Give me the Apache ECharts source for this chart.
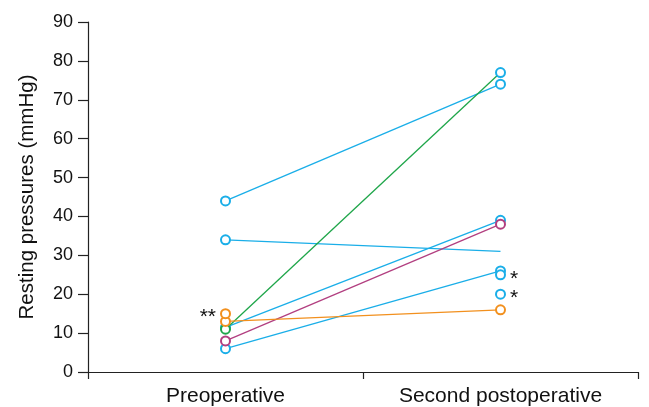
<!DOCTYPE html>
<html><head><meta charset="utf-8">
<script src="https://cdn.jsdelivr.net/npm/echarts@6/dist/echarts.min.js"></script>
<style>html,body{margin:0;padding:0;background:#fff}#c{width:649px;height:407px}</style>
</head><body><div id="c"></div>
<script>
var categories = ['Preoperative', 'Second postoperative'];
var yTicks = [0, 10, 20, 30, 40, 50, 60, 70, 80, 90];
var blueA = [44, 74];
var blueB = [34, 31];
var blueC = [11.5, 39];
var blueD = [6, 26];
var greenLine = [11, 77];
var magentaLine = [8, 38];
var orangeLine = [13, 16];
var orangeSingle = [15, null];
var blueSingle1 = [null, 25];
var blueSingle2 = [null, 20];

var BLUE = '#1aaee8', GREEN = '#1fa64a', MAGENTA = '#b23f80', ORANGE = '#f2901e';

function lineSeries(vals, color, opts) {
  opts = opts || {};
  var data = vals.map(function (v, i) {
    var d = { value: v };
    if (opts.noEnd && i === 1) d.symbol = 'none';
    if (opts.endColor && i === 1) d.itemStyle = { color: opts.endColor, borderColor: opts.endColor };
    if (opts.label && v != null) d.label = opts.label;
    return d;
  });
  return {
    type: 'line', data: data, symbol: 'emptyCircle', symbolSize: 9,
    connectNulls: false, silent: true, animation: false,
    lineStyle: { color: color, width: 1.3 },
    itemStyle: { color: color, borderColor: color, borderWidth: 1.3 },
    z: opts.z || 2
  };
}

var starLabel = function (pos, txt) {
  return { show: true, position: pos, formatter: txt, color: '#111', fontSize: 21,
    fontFamily: 'Liberation Sans', distance: 4, offset: [0, 4] };
};

var option = {
  animation: false,
  grid: { left: 88, right: 11, top: 22, bottom: 31 },
  xAxis: {
    type: 'category', data: categories, boundaryGap: true,
    axisLine: { lineStyle: { color: '#222', width: 1.2 } },
    axisTick: { show: true, alignWithLabel: false, length: 7, lineStyle: { color: '#222', width: 1.2 } },
    axisLabel: { color: '#111', fontSize: 21, fontFamily: 'Liberation Sans', margin: 14 }
  },
  yAxis: {
    type: 'value', min: 0, max: 90, interval: 10,
    name: 'Resting pressures (mmHg)', nameLocation: 'middle', nameGap: 50,
    nameTextStyle: { color: '#111', fontSize: 20.5, fontFamily: 'Liberation Sans' },
    axisLine: { show: true, lineStyle: { color: '#222', width: 1.2 } },
    axisTick: { show: true, length: 10, lineStyle: { color: '#222', width: 1.2 } },
    axisLabel: { color: '#111', fontSize: 18, fontFamily: 'Liberation Sans', margin: 15,
      formatter: function (v) { return yTicks.indexOf(v) >= 0 ? String(v) : ''; } },
    splitLine: { show: false }
  },
  series: [
    lineSeries(blueA, BLUE),
    lineSeries(blueB, BLUE, { noEnd: true }),
    lineSeries(blueC, BLUE),
    lineSeries(blueD, BLUE),
    lineSeries(greenLine, GREEN, { endColor: BLUE }),
    lineSeries(magentaLine, MAGENTA),
    lineSeries(orangeLine, ORANGE),
    lineSeries(orangeSingle, ORANGE, { label: starLabel('left', '**') }),
    lineSeries(blueSingle1, BLUE, { label: starLabel('right', '*') }),
    lineSeries(blueSingle2, BLUE, { label: starLabel('right', '*') })
  ]
};
var chart = echarts.init(document.getElementById('c'), null, { renderer: 'canvas' });
chart.setOption(option);
</script></body></html>
